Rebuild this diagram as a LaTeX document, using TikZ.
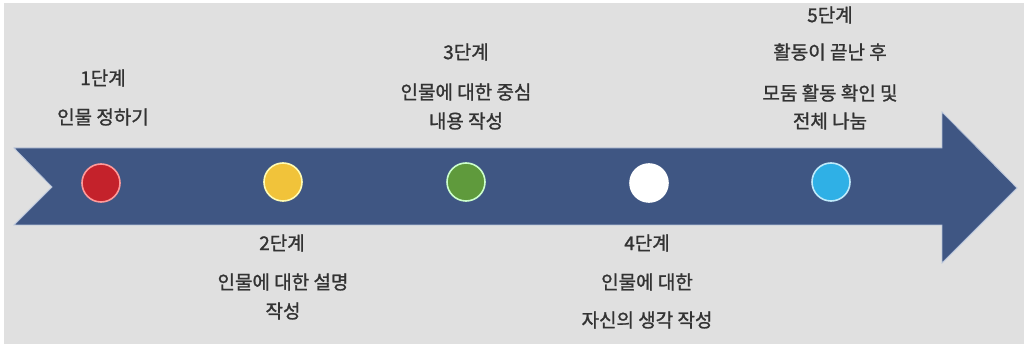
\documentclass[tikz,border=0pt]{standalone}
\usepackage{fontspec}
\newfontfamily\kr[FakeBold=1.2]{Noto Sans CJK KR}
\definecolor{bg}{HTML}{E0E0E0}
\definecolor{navy}{HTML}{3F5683}
\definecolor{edge}{HTML}{B8C4DA}
\definecolor{txt}{HTML}{333333}
\definecolor{cred}{HTML}{C4222B}
\definecolor{cyel}{HTML}{F1C33A}
\definecolor{cgrn}{HTML}{5F9A3C}
\definecolor{cwht}{HTML}{FFFFFF}
\definecolor{cblu}{HTML}{2FB0E6}
\tikzset{
  lbl/.style={font=\kr\fontsize{19}{22}\selectfont, text=txt, inner sep=0pt, anchor=center},
  dot/.style={circle, minimum size=38pt, inner sep=0pt, line width=1.6pt}
}
\begin{document}
\begin{tikzpicture}[x=1pt,y=-1pt]
\useasboundingbox (0,0) rectangle (1028,347);
\fill[white] (0,0) rectangle (1028,347);
\fill[bg] (4,3) rectangle (1024,344);
\draw[fill=navy, draw=edge, line width=0.8pt, line join=miter]
  (14,148) -- (942,148) -- (942,112) -- (1017,188) -- (942,263) -- (942,225) -- (14,225) -- (52,187) -- cycle;
\node[dot, fill=cred, draw=red!40!white] (c1) at (101,183) {};
\node[dot, fill=cyel, draw=yellow!30!white] (c2) at (283,182) {};
\node[dot, fill=cgrn, draw=green!20!white] (c3) at (466,182) {};
\node[dot, fill=cwht, draw=white] (c4) at (649,183) {};
\node[dot, fill=cblu, draw=cyan!25!white] (c5) at (831,182) {};
\node[lbl] (t1a) at (103,78) {1단계};
\node[lbl] (t1b) at (103,117) {인물 정하기};
\node[lbl] (t2a) at (282,243) {2단계};
\node[lbl] (t2b) at (283,282) {인물에 대한 설명};
\node[lbl] (t2c) at (283,311) {작성};
\node[lbl] (t3a) at (466,52) {3단계};
\node[lbl] (t3b) at (466,92) {인물에 대한 중심};
\node[lbl] (t3c) at (466,121) {내용 작성};
\node[lbl] (t4a) at (647,243) {4단계};
\node[lbl] (t4b) at (647,282) {인물에 대한};
\node[lbl] (t4c) at (647,320) {자신의 생각 작성};
\node[lbl] (t5a) at (830,15) {5단계};
\node[lbl] (t5b) at (830,52) {활동이 끝난 후};
\node[lbl] (t5c) at (830,93) {모둠 활동 확인 및};
\node[lbl] (t5d) at (830,121) {전체 나눔};
\end{tikzpicture}
\end{document}
